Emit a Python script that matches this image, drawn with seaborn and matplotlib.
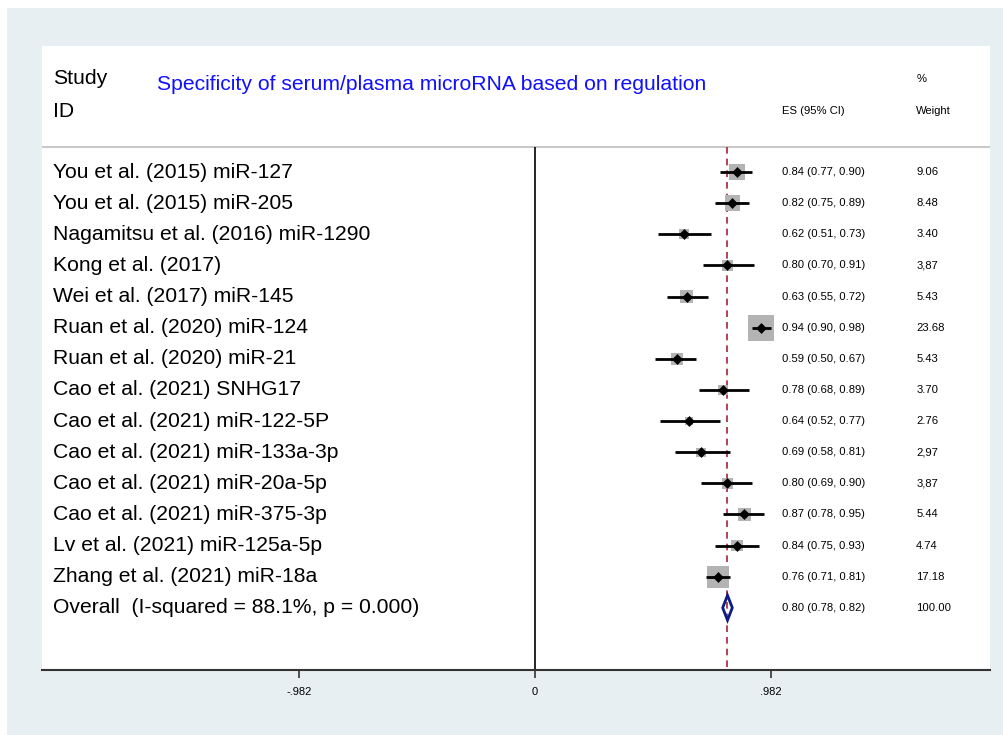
import numpy as np
import pandas as pd
import seaborn as sns
import matplotlib.pyplot as plt
from matplotlib.patches import Rectangle

# Study data
studies = ["You et al. (2015) miR-127", "You et al. (2015) miR-205",
           "Nagamitsu et al. (2016) miR-1290", "Kong et al. (2017)",
           "Wei et al. (2017) miR-145", "Ruan et al. (2020) miR-124",
           "Ruan et al. (2020) miR-21", "Cao et al. (2021) SNHG17",
           "Cao et al. (2021) miR-122-5P", "Cao et al. (2021) miR-133a-3p",
           "Cao et al. (2021) miR-20a-5p", "Cao et al. (2021) miR-375-3p",
           "Lv et al. (2021) miR-125a-5p", "Zhang et al. (2021) miR-18a"]
es = [0.84, 0.82, 0.62, 0.80, 0.63, 0.94, 0.59, 0.78, 0.64, 0.69, 0.80, 0.87, 0.84, 0.76]
lo = [0.77, 0.75, 0.51, 0.70, 0.55, 0.90, 0.50, 0.68, 0.52, 0.58, 0.69, 0.78, 0.75, 0.71]
hi = [0.90, 0.89, 0.73, 0.91, 0.72, 0.98, 0.67, 0.89, 0.77, 0.81, 0.90, 0.95, 0.93, 0.81]
weights = [9.06, 8.48, 3.40, 3.87, 5.43, 23.68, 5.43, 3.70, 2.76, 2.97, 3.87, 5.44, 4.74, 17.18]
weight_labels = ["9.06", "8.48", "3.40", "3,87", "5.43", "23.68", "5.43", "3.70",
                 "2.76", "2,97", "3,87", "5.44", "4.74", "17.18"]

overall_label = "Overall  (I-squared = 88.1%, p = 0.000)"
overall_es, overall_lo, overall_hi = 0.80, 0.78, 0.82
title = "Specificity of serum/plasma microRNA based on regulation"
tick_vals = [-0.982, 0, 0.982]
tick_labels = ["-.982", "0", ".982"]

df = pd.DataFrame({"study": studies, "es": es, "lo": lo, "hi": hi, "w": weights})
df["row"] = np.arange(len(df))
n = len(df)

sns.set_theme(style="white")
plt.rcParams["font.family"] = ["Liberation Sans", "DejaVu Sans"]
plt.rcParams["text.color"] = "black"
plt.rcParams["xtick.color"] = "black"

big, small = 15.2, 8.1

fig = plt.figure(figsize=(10.04, 7.35), dpi=100)
fig.patch.set_facecolor("white")
fig.patches.append(Rectangle((7 / 1004, 0), 1, 1 - 8 / 735, transform=fig.transFigure,
                             facecolor="#e8eff2", edgecolor="none", zorder=-10))

ax = fig.add_axes([42 / 1004, 65 / 735, 948 / 1004, 624 / 735])
ax.set_facecolor("white")
ax.set_xlim(-2.049, 1.891)
ax.set_ylim(16.0, -4.05)

top = -0.8
# header separator, null line, overall line
ax.axhline(top, color="#c8c8c8", lw=1.5)
ax.vlines(0, top, 16.0, color="black", lw=1.2)
ax.vlines(overall_es, top, 16.0, color="#a3243b", lw=1.2, linestyles=(0, (4, 3)))

# weight squares
sns.scatterplot(data=df, x="es", y="row", size="w", marker="s",
                sizes=(15 * min(weights), 14.5 * max(weights)),
                color="#b3b3b3", edgecolor="none", legend=False, ax=ax, zorder=2)
# confidence intervals
ax.hlines(df["row"], df["lo"], df["hi"], color="black", lw=2, zorder=3)
# point estimates
sns.scatterplot(data=df, x="es", y="row", marker="D", s=26, color="black",
                edgecolor="black", legend=False, ax=ax, zorder=4)

# overall diamond
oy = n
ax.fill([overall_lo, overall_es, overall_hi, overall_es],
        [oy, oy - 0.4, oy, oy + 0.4], facecolor="none",
        edgecolor="#0f1a84", lw=2, zorder=5)

# text columns
xl, xes, xw = -2.003, 1.027, 1.584
for i, s in enumerate(studies):
    ax.text(xl, i, s, fontsize=big, va="center", ha="left")
    ax.text(xes, i, f"{es[i]:.2f} ({lo[i]:.2f}, {hi[i]:.2f})", fontsize=small, va="center")
    ax.text(xw, i, weight_labels[i], fontsize=small, va="center")
ax.text(xl, oy, overall_label, fontsize=big, va="center")
ax.text(xes, oy, f"{overall_es:.2f} ({overall_lo:.2f}, {overall_hi:.2f})", fontsize=small, va="center")
ax.text(xw, oy, "100.00", fontsize=small, va="center")

ax.text(xl, -2.99, "Study", fontsize=big, va="center")
ax.text(xl, -1.96, "ID", fontsize=big, va="center")
ax.text(-1.571, -2.8, title, fontsize=big, va="center", color="#1010ff")
ax.text(xes, -1.96, "ES (95% CI)", fontsize=small, va="center")
ax.text(xw, -2.99, "%", fontsize=small, va="center")
ax.text(xw, -1.96, "Weight", fontsize=small, va="center")

ax.set_xticks(tick_vals)
ax.set_xticklabels(tick_labels, fontsize=8)
ax.set_yticks([])
ax.set_xlabel("")
ax.set_ylabel("")
for side in ["top", "left", "right"]:
    ax.spines[side].set_visible(False)
ax.spines["bottom"].set_color("#333333")
ax.spines["bottom"].set_linewidth(1.5)
ax.tick_params(axis="x", direction="out", length=6, width=1.2, color="#333333",
               pad=6, bottom=True)

fig.savefig("out.png", dpi=100)
